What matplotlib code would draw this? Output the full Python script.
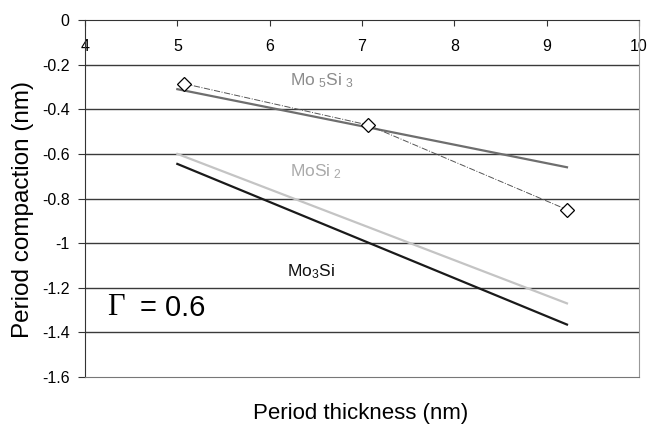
import matplotlib
matplotlib.use('Agg')
import matplotlib.pyplot as plt

plt.rcParams['font.family'] = ['Liberation Sans', 'DejaVu Sans']
plt.rcParams['mathtext.fontset'] = 'custom'
plt.rcParams['mathtext.rm'] = 'Liberation Sans'
plt.rcParams['mathtext.default'] = 'regular'

# fitted lines (start / end points)
thick_fit = [5.0, 9.22]
mo5si3_fit = [-0.31, -0.66]
mosi2_fit = [-0.60, -1.27]
mo3si_fit = [-0.645, -1.365]

# measured points
thick_meas = [5.07, 7.06, 9.22]
compact_meas = [-0.285, -0.47, -0.85]

xticks = [4, 5, 6, 7, 8, 9, 10]
yticks = [0, -0.2, -0.4, -0.6, -0.8, -1, -1.2, -1.4, -1.6]
ylabels = ['0', '-0.2', '-0.4', '-0.6', '-0.8', '-1', '-1.2', '-1.4', '-1.6']

fig = plt.figure(figsize=(6.5, 4.24), dpi=100)
ax = fig.add_axes([85 / 650, 47 / 424, 554 / 650, 357 / 424])

for y in yticks[1:-1]:
    ax.axhline(y, color='#3a3a3a', lw=1.0, zorder=1)

ax.plot(thick_fit, mo5si3_fit, color='#6e6e6e', lw=1.6, zorder=3)
ax.plot(thick_fit, mosi2_fit, color='#c4c4c4', lw=1.6, zorder=3)
ax.plot(thick_fit, mo3si_fit, color='#1a1a1a', lw=1.6, zorder=3)
ax.plot(thick_meas, compact_meas, color='#555555', lw=0.7, ls='-.',
        marker='D', ms=7, mfc='white', mec='black', mew=0.9, zorder=4)

ax.text(6.22, -0.27, r'Mo$_{\ 5}$Si$_{\ 3}$', color='#8c8c8c', fontsize=12.5, va='center')
ax.text(6.22, -0.68, r'MoSi$_{\ 2}$', color='#aaaaaa', fontsize=12.5, va='center')
ax.text(6.19, -1.13, r'Mo$_3$Si', color='#111111', fontsize=12.5, va='center')
ax.text(4.235, -1.29, 'Γ', family='Liberation Serif', fontsize=22, va='center')
ax.text(4.596, -1.29, '= 0.6', fontsize=21, va='center')

ax.set_xlim(4, 10)
ax.set_ylim(-1.6, 0)
ax.set_xticks(xticks)
ax.set_yticks(yticks)
ax.set_yticklabels(ylabels)
ax.tick_params(axis='x', top=True, bottom=False, labeltop=True, labelbottom=False,
               direction='in', length=4, pad=-24.5, labelsize=11.5, color='#333333')
ax.tick_params(axis='y', direction='out', length=5, pad=6, labelsize=11.5, color='#333333')

ax.spines['left'].set_color('#333333')
ax.spines['top'].set_color('#333333')
ax.spines['right'].set_color('#999999')
ax.spines['bottom'].set_color('#777777')

ax.set_ylabel('Period compaction (nm)', fontsize=17.5)
ax.yaxis.set_label_coords(-0.092, 0.468)
ax.set_xlabel('Period thickness (nm)', fontsize=16)
ax.xaxis.set_label_coords(0.498, -0.073)

fig.savefig('out.png', dpi=100)
